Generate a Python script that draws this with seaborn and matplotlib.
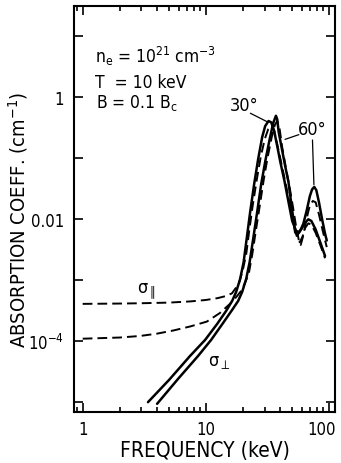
import numpy as np
import pandas as pd
import matplotlib
matplotlib.use("Agg")
import matplotlib.pyplot as plt
import matplotlib.ticker as mticker
import matplotlib.transforms as mtransforms
import seaborn as sns

# ---- data ----
freq_perp30 = [3.39, 5.03, 7.45, 9.87, 12.36, 14.62, 16.36, 17.63, 19.0, 20.29, 21.46, 22.92, 24.7, 26.62, 28.69, 30.35, 32.3,
               34.0, 35.9, 38.0, 40.3, 43.6, 47.0, 50.3, 54.2, 57.0, 60.0, 64.0, 68.0, 72.0, 78.0, 85.0, 93.0]
abs_perp30 = [1.0e-5, 2.32e-5, 5.74e-5, 1.05e-4, 1.92e-4, 3.14e-4, 4.58e-4, 6.43e-4, 1.05e-3, 2.0e-3, 4.75e-3, 0.0132, 0.0379, 0.0975, 0.223, 0.339, 0.41,
              0.39, 0.28, 0.16, 0.087, 0.042, 0.019, 0.0094, 0.0064, 0.0062, 0.0070, 0.0088, 0.0100, 0.0094, 0.0068, 0.0042, 0.0025]

freq_perp60 = [4.02, 5.95, 8.66, 11.04, 13.83, 16.36, 18.31, 19.73, 21.27, 22.71, 24.24, 26.13, 28.17, 30.64, 33.02, 35.26, 37.1,
               38.0, 39.07, 41.5, 44.1, 46.95, 49.85, 53.2, 55.5, 58.0, 62.0, 66.0, 70.0, 73.0, 76.0, 79.0, 83.0, 88.0, 93.0, 96.0]
abs_perp60 = [9.4e-6, 2.41e-5, 5.74e-5, 1.05e-4, 2.0e-4, 3.26e-4, 4.58e-4, 6.43e-4, 1.05e-3, 2.0e-3, 4.75e-3, 0.0132, 0.0379, 0.0975, 0.207, 0.379, 0.50,
              0.44, 0.27, 0.142, 0.0748, 0.0404, 0.0159, 0.0061, 0.0056, 0.0063, 0.0085, 0.014, 0.024, 0.031, 0.034, 0.030, 0.019, 0.010, 0.0058, 0.0045]

freq_par30 = [1.0, 2.0, 3.0, 5.0, 7.5, 10.0, 12.5, 14.5, 16.3, 18.5, 19.9, 21.3, 22.5, 24.0, 25.9, 27.9, 30.1, 32.1, 34.0,
              35.9, 38.0, 40.5, 43.5, 46.5, 49.5, 52.5, 55.5, 58.0, 61.0, 64.0, 68.0, 72.0, 78.0, 85.0, 93.0]
abs_par30 = [4.1e-4, 4.15e-4, 4.2e-4, 4.3e-4, 4.5e-4, 4.75e-4, 5.1e-4, 5.5e-4, 6.1e-4, 8.7e-4, 1.42e-3, 2.7e-3, 6.4e-3, 0.0165, 0.044, 0.105, 0.207, 0.30, 0.34,
             0.29, 0.17, 0.095, 0.048, 0.025, 0.013, 0.0072, 0.0048, 0.0042, 0.0052, 0.0072, 0.0086, 0.0082, 0.0060, 0.0038, 0.0023]

freq_par60 = [1.0, 2.0, 2.93, 4.0, 5.45, 7.5, 10.2, 13.0, 15.7, 17.8, 19.7, 22.3, 23.8, 25.4, 27.4, 29.5, 31.8, 34.3, 36.3,
              38.0, 39.8, 41.7, 45.0, 48.0, 51.0, 54.0, 57.0, 59.0, 62.0, 66.0, 70.0, 74.0, 78.0, 83.0, 89.0, 96.0]
abs_par60 = [1.1e-4, 1.15e-4, 1.22e-4, 1.33e-4, 1.5e-4, 1.75e-4, 2.1e-4, 2.9e-4, 4.1e-4, 5.4e-4, 7.0e-4, 1.27e-3, 2.6e-3, 6.2e-3, 0.0165, 0.044, 0.105, 0.223, 0.35,
             0.41, 0.30, 0.153, 0.065, 0.033, 0.016, 0.0078, 0.0045, 0.0038, 0.0055, 0.0105, 0.017, 0.020, 0.019, 0.012, 0.0065, 0.0035]

x_tick_vals = [1, 10, 100]
x_tick_labels = ["1", "10", "100"]
y_tick_vals = [1e-5, 1e-4, 1e-3, 1e-2, 1e-1, 1, 10]
y_tick_labels = ["", r"$10^{-4}$", "", "0.01", "", "1", ""]

sns.set_style("ticks")
plt.rcParams["font.family"] = ["DejaVu Sans"]
plt.rcParams["font.stretch"] = "condensed"
plt.rcParams["mathtext.fontset"] = "dejavusans"
plt.rcParams["mathtext.default"] = "regular"
for k in ["text.color", "axes.labelcolor", "xtick.color", "ytick.color", "axes.edgecolor"]:
    plt.rcParams[k] = "black"

fig = plt.figure(figsize=(3.41, 4.64), dpi=100)
ax = fig.add_axes([74 / 341, 1 - 413 / 464, (335 - 74) / 341, (413 - 7) / 464])

curves = [
    (freq_perp30, abs_perp30, "-", 1.8),
    (freq_perp60, abs_perp60, "-", 1.8),
    (freq_par30, abs_par30, (0, (5, 2.6)), 1.4),
    (freq_par60, abs_par60, (0, (5, 2.6)), 1.4),
]
for fx, fy, ls, lw in curves:
    df = pd.DataFrame({"freq": fx, "absorption": fy})
    sns.lineplot(data=df, x="freq", y="absorption", ax=ax, color="black",
                 linestyle=ls, linewidth=lw, estimator=None, sort=False)

ax.set_xscale("log")
ax.set_yscale("log")
ax.set_xlim(0.85, 112)
ax.set_ylim(6.9e-6, 31.6)

ax.xaxis.set_major_locator(mticker.FixedLocator(x_tick_vals))
ax.xaxis.set_major_formatter(mticker.FixedFormatter(x_tick_labels))
ax.xaxis.set_minor_locator(mticker.LogLocator(base=10, subs=np.arange(2, 10)))
ax.xaxis.set_minor_formatter(mticker.NullFormatter())
ax.yaxis.set_major_locator(mticker.FixedLocator(y_tick_vals))
ax.yaxis.set_major_formatter(mticker.FixedFormatter(y_tick_labels))
ax.yaxis.set_minor_locator(mticker.NullLocator())

ax.tick_params(which="both", direction="in", top=True, right=True, width=1.2)
ax.tick_params(which="major", length=6.5, labelsize=12)
ax.tick_params(which="minor", length=3.5)
ax.tick_params(axis="x", which="major", pad=6)
ax.tick_params(axis="y", which="major", pad=7)
for s in ax.spines.values():
    s.set_linewidth(1.5)

# nudge the "100" label slightly left so it stays inside the figure
last_tick = ax.xaxis.get_major_ticks()[-1]
last_tick.label1.set_transform(last_tick.label1.get_transform() +
                               mtransforms.ScaledTranslation(-5 / 72, 0, fig.dpi_scale_trans))

ax.set_xlabel("FREQUENCY (keV)", fontsize=15, labelpad=1)
ax.set_ylabel(r"ABSORPTION COEFF. (cm$^{-1}$)", fontsize=14.5, va="center")
ax.yaxis.set_label_coords(-0.215, 0.475)

# parameter text
ax.text(0.08, 0.862, r"n$_e$ = 10$^{21}$ cm$^{-3}$", transform=ax.transAxes, fontsize=12.5, va="baseline")
ax.text(0.08, 0.800, "T  = 10 keV", transform=ax.transAxes, fontsize=12.5, va="baseline")
ax.text(0.085, 0.751, r"B = 0.1 B$_c$", transform=ax.transAxes, fontsize=12.5, va="baseline")

# angle labels with pointer lines
ax.text(20.5, 0.75, "30°", fontsize=13, ha="center", va="center")
ax.plot([23.0, 31.4], [0.55, 0.40], color="black", lw=0.9)
ax.text(73, 0.30, "60°", fontsize=13, ha="center", va="center")
ax.plot([57.0, 44.0], [0.245, 0.205], color="black", lw=0.9)
ax.plot([73.5, 75.5], [0.20, 0.037], color="black", lw=0.9)

# polarization labels
ax.text(3.3, 7.0e-4, r"$\sigma_{\parallel}$", fontsize=13, ha="center", va="center")
ax.text(12.8, 4.8e-5, r"$\sigma_{\perp}$", fontsize=13, ha="center", va="center")

fig.savefig("out.png", dpi=100)
